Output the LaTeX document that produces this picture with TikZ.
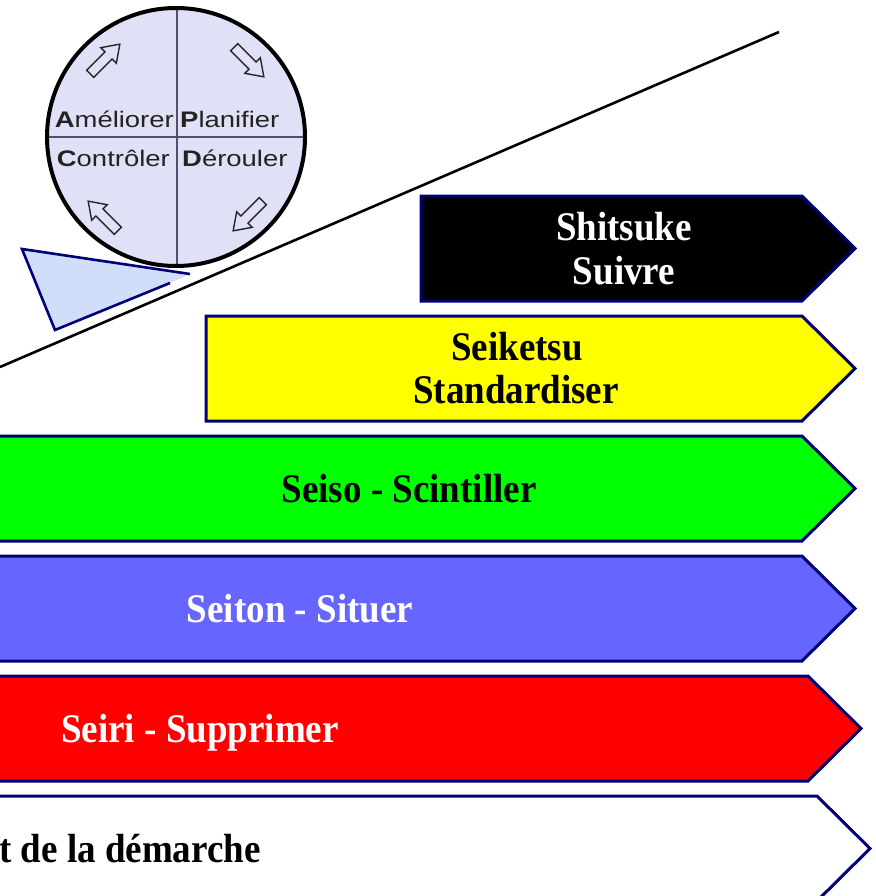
\documentclass[tikz,border=0pt]{standalone}
\usepackage{fontspec}
\setmainfont{Liberation Serif}
\newfontfamily\arialf{Liberation Sans}
\definecolor{navy}{RGB}{0,0,120}
\definecolor{bandyellow}{RGB}{255,255,0}
\definecolor{bandgreen}{RGB}{0,255,0}
\definecolor{bandblue}{RGB}{102,102,255}
\definecolor{bandred}{RGB}{255,0,0}
\definecolor{circfill}{RGB}{224,224,246}
\definecolor{trifill}{RGB}{208,222,250}
\definecolor{crossline}{RGB}{80,80,110}
\definecolor{circtext}{RGB}{35,35,35}
\newcommand{\talltext}[1]{\scalebox{1}[1.1]{#1}}
\newcommand{\widetext}[1]{\scalebox{1.22}[1]{#1}}
\newcommand{\bandshape}[6]{% name, fill, left, top, shoulder, tip
  \path[band, fill=#2] (#3,#4) -- (#5,#4) -- (#6,#4+52.5) -- (#5,#4+105) -- (#3,#4+105) -- cycle;}
\newcommand{\pdcaarrow}[2]{%
  \begin{scope}[shift={#1}, rotate=#2]
    \draw[cyclearrow] (-21,-5) -- (5,-5) -- (5,-11) -- (21,0) -- (5,11) -- (5,5) -- (-21,5) -- cycle;
  \end{scope}}
\begin{document}
\begin{tikzpicture}[x=1pt, y=-1pt,
  band/.style={draw=navy, line width=3pt, line join=miter},
  lbl/.style={font=\fontsize{37}{44}\selectfont\bfseries, inner sep=0pt, anchor=base},
  ctext/.style={font=\arialf\fontsize{22.5}{26}\selectfont, text=circtext, inner sep=0pt},
  cyclearrow/.style={draw=black!85, line width=1.4pt, fill=circfill, line join=miter}]
\useasboundingbox (0,0) rectangle (875,896);
\clip (0,0) rectangle (875,896);
\fill[white] (0,0) rectangle (875,896);

% bands
\bandshape{shitsuke}{black}{421}{196}{802}{855}
\bandshape{seiketsu}{bandyellow}{206}{316}{802}{855}
\bandshape{seiso}{bandgreen}{-10}{436}{802}{855}
\bandshape{seiton}{bandblue}{-10}{556}{802}{855}
\bandshape{seiri}{bandred}{-10}{676}{808}{861}
\bandshape{demarche}{white}{-10}{796}{817}{870}

% band labels
\node[lbl, text=white] (sh1) at (624,240) {\talltext{Shitsuke}};
\node[lbl, text=white] (sh2) at (624,284) {\talltext{Suivre}};
\node[lbl] (sk1) at (517,360) {\talltext{Seiketsu}};
\node[lbl] (sk2) at (516,403) {\talltext{Standardiser}};
\node[lbl] (so) at (409,502) {\talltext{Seiso - Scintiller}};
\node[lbl, text=white] (st) at (300,622) {\talltext{Seiton - Situer}};
\node[lbl, text=white] (sr) at (200,742) {\talltext{Seiri - Supprimer}};
\node[lbl, anchor=base west] (dm) at (-1,862) {\talltext{t de la démarche}};

% PDCA circle
\fill[circfill] (176,137) circle[radius=129];
\draw[crossline, line width=1.3pt] (177,8) -- (177,266);
\draw[crossline, line width=1.3pt] (47,137) -- (305,137);
\draw[black, line width=4pt] (176,137) circle[radius=129];
\node[ctext, anchor=base east] (am) at (174,128) {\widetext{\textbf{A}méliorer}};
\node[ctext, anchor=base west] (pl) at (180,128) {\widetext{\textbf{P}lanifier}};
\node[ctext, anchor=base east] (co) at (170,167) {\widetext{\textbf{C}ontrôler}};
\node[ctext, anchor=base west] (de) at (182,167) {\widetext{\textbf{D}érouler}};
\pdcaarrow{(105,59)}{45}
\pdcaarrow{(249,62)}{-45}
\pdcaarrow{(103,216)}{135}
\pdcaarrow{(248,216)}{-135}

% triangle (corner cut off parallel to the line)
\fill[trifill] (22,249) -- (190,274) -- (170,283) -- (55,330) -- cycle;
\draw[navy, line width=2.6pt, line join=miter] (190,274) -- (22,249) -- (55,330) -- (170,283);

% diagonal line
\draw[black, line width=2.6pt] (0,367) -- (779,32);
\end{tikzpicture}
\end{document}
